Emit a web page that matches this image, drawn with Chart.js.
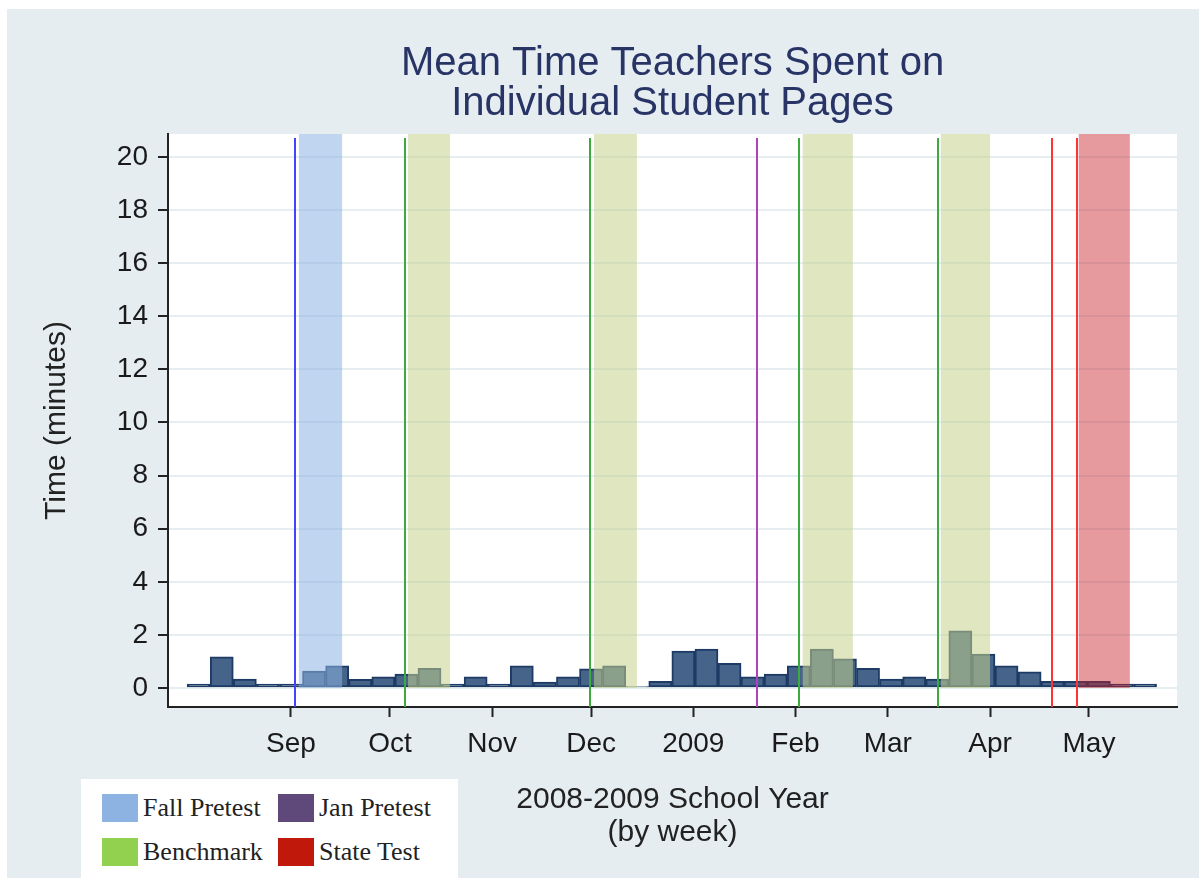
<!DOCTYPE html>
<html>
<head>
<meta charset="utf-8">
<script src="https://cdn.jsdelivr.net/npm/chart.js@4.4.1/dist/chart.umd.min.js"></script>
<style>
  body { margin: 0; background: #fff; }
  #frame { position: absolute; left: 7px; top: 9px; width: 1192px; height: 869px; background: #e5edf1; }
  #chart { position: absolute; left: 0; top: 0; }
  .legend { position: absolute; left: 81px; top: 779px; width: 377px; height: 99px; background: #fff;
            font-family: "Liberation Serif", "Times New Roman", serif; font-size: 26px; color: #222; }
  .item { position: absolute; display: flex; align-items: center; height: 28px; white-space: nowrap; }
  .swatch { width: 36px; height: 28px; margin-right: 5px; }
</style>
</head>
<body>
<div id="frame"></div>
<canvas id="chart" width="1199" height="878"></canvas>
<div class="legend">
  <div class="item" style="left:21px;top:15px"><span class="swatch" style="background:#8db3e2"></span>Fall Pretest</div>
  <div class="item" style="left:197px;top:15px"><span class="swatch" style="background:#5f497a"></span>Jan Pretest</div>
  <div class="item" style="left:21px;top:59px"><span class="swatch" style="background:#92d050"></span>Benchmark</div>
  <div class="item" style="left:197px;top:59px"><span class="swatch" style="background:#c0180a"></span>State Test</div>
</div>
<script>
// week centres, in days since 1 Sep 2008
const weekDays = [-28, -21, -14, -7, 0, 7, 14, 21, 28, 35, 42, 49, 56, 63, 70, 77, 84, 91, 98, 105, 112,
                  119, 126, 133, 140, 147, 154, 161, 168, 175, 182, 189, 196, 203, 210, 217, 224, 231, 238, 245, 252, 259];
// mean minutes per week
const meanMinutes = [0.15, 1.17, 0.34, 0.15, 0.15, 0.64, 0.83, 0.33, 0.42, 0.52, 0.74, 0.15, 0.42, 0.15, 0.83, 0.22, 0.42,
                     0.72, 0.83, 0.05, 0.25, 1.39, 1.47, 0.93, 0.42, 0.52, 0.83, 1.47, 1.1, 0.74, 0.34, 0.42, 0.34,
                     2.15, 1.28, 0.83, 0.61, 0.25, 0.25, 0.25, 0.15, 0.15];

const monthTickDays = [0, 30, 61, 91, 122, 153, 181, 212, 242];
const monthTickLabels = ['Sep', 'Oct', 'Nov', 'Dec', '2009', 'Feb', 'Mar', 'Apr', 'May'];
const yTickValues = [0, 2, 4, 6, 8, 10, 12, 14, 16, 18, 20];

// test events (days since 1 Sep 2008)
const fallPretestLines = [1.2];
const fallPretestBands = [[2.4, 15.5]];
const benchmarkLines = [34.6, 90.7, 154, 196.2];
const benchmarkBands = [[35.5, 48.2], [91.9, 104.9], [155.2, 170.4], [197.1, 212]];
const janPretestLines = [141.3];
const stateTestLines = [230.7, 238.3];
const stateTestBands = [[238.9, 254.4]];

const eventsPlugin = {
    id: 'events',
    beforeDraw(chart) {
        const {ctx, chartArea} = chart;
        ctx.save();
        ctx.fillStyle = '#fff';
        ctx.fillRect(chartArea.left + 1, chartArea.top, chartArea.right - chartArea.left - 1, chartArea.bottom - chartArea.top);
        ctx.restore();
    },
    afterDatasetsDraw(chart) {
        const {ctx, chartArea, scales: {x, y}} = chart;
        ctx.save();
        const bands = (ranges, color) => {
            ctx.fillStyle = color;
            ranges.forEach(r => {
                const x0 = x.getPixelForValue(r[0]);
                const x1 = x.getPixelForValue(r[1]);
                ctx.fillRect(x0, chartArea.top, x1 - x0, y.getPixelForValue(0) - chartArea.top);
            });
        };
        const lines = (days, color) => {
            ctx.strokeStyle = color;
            ctx.lineWidth = 2;
            days.forEach(d => {
                const px = Math.round(x.getPixelForValue(d));
                ctx.beginPath();
                ctx.moveTo(px, chartArea.top + 4);
                ctx.lineTo(px, chartArea.bottom);
                ctx.stroke();
            });
        };
        bands(fallPretestBands, 'rgba(141,179,226,0.55)');
        bands(benchmarkBands, 'rgba(196,210,140,0.55)');
        bands(stateTestBands, 'rgba(200,30,40,0.45)');
        lines(fallPretestLines, '#4444ff');
        lines(benchmarkLines, '#3caa3c');
        lines(janPretestLines, '#b040c0');
        lines(stateTestLines, '#ff3333');
        ctx.restore();
    }
};

const ctx = document.getElementById('chart').getContext('2d');

const chart = new Chart(ctx, {
    type: 'bar',
    data: {
        datasets: [{
            label: 'Mean time',
            data: weekDays.map((d, i) => ({x: d, y: meanMinutes[i]})),
            backgroundColor: '#46648a',
            borderColor: '#1d3b64',
            borderWidth: 2,
            borderSkipped: false,
            barPercentage: 1,
            categoryPercentage: 1
        }]
    },
    options: {
        responsive: false,
        animation: false,
        layout: { padding: { left: 0, right: 22, top: 0, bottom: 0 } },
        plugins: {
            legend: { display: false },
            tooltip: { enabled: false },
            title: {
                display: true,
                text: ['Mean Time Teachers Spent on', 'Individual Student Pages'],
                fullSize: false,
                color: '#283466',
                font: { family: 'Liberation Sans', size: 40, weight: 'normal', lineHeight: 1.0 },
                padding: { top: 44, bottom: 10 }
            }
        },
        scales: {
            x: {
                type: 'linear',
                min: -37.3,
                max: 268.7,
                offset: false,
                afterFit: scale => { scale.height = 171; },
                afterBuildTicks: scale => { scale.ticks = monthTickDays.map(v => ({value: v})); },
                grid: { offset: false, drawOnChartArea: false, drawTicks: true, tickLength: 10, tickColor: '#222', tickWidth: 2 },
                border: { display: true, color: '#222', width: 2 },
                ticks: {
                    autoSkip: false, maxRotation: 0, padding: 10, color: '#1a1a1a',
                    font: { family: 'Liberation Sans', size: 28 },
                    callback: value => monthTickLabels[monthTickDays.indexOf(value)]
                },
                title: {
                    display: true,
                    text: ['2008-2009 School Year', '(by week)'],
                    color: '#222',
                    font: { family: 'Liberation Sans', size: 30, lineHeight: 1.1 },
                    padding: { top: 0, bottom: 29 }
                }
            },
            y: {
                min: -0.716,
                max: 20.866,
                afterFit: scale => { scale.width = 168; },
                afterBuildTicks: scale => { scale.ticks = yTickValues.map(v => ({value: v})); },
                grid: { color: '#e6eef1', lineWidth: 2, tickColor: '#222', tickWidth: 2, tickLength: 10 },
                border: { display: true, color: '#222', width: 2 },
                ticks: { padding: 10, color: '#1a1a1a', font: { family: 'Liberation Sans', size: 28 } },
                title: {
                    display: true,
                    text: 'Time (minutes)',
                    color: '#222',
                    font: { family: 'Liberation Sans', size: 30, lineHeight: 1.1 },
                    padding: { top: 40, bottom: 0 }
                }
            }
        }
    },
    plugins: [eventsPlugin]
});
</script>
</body>
</html>
